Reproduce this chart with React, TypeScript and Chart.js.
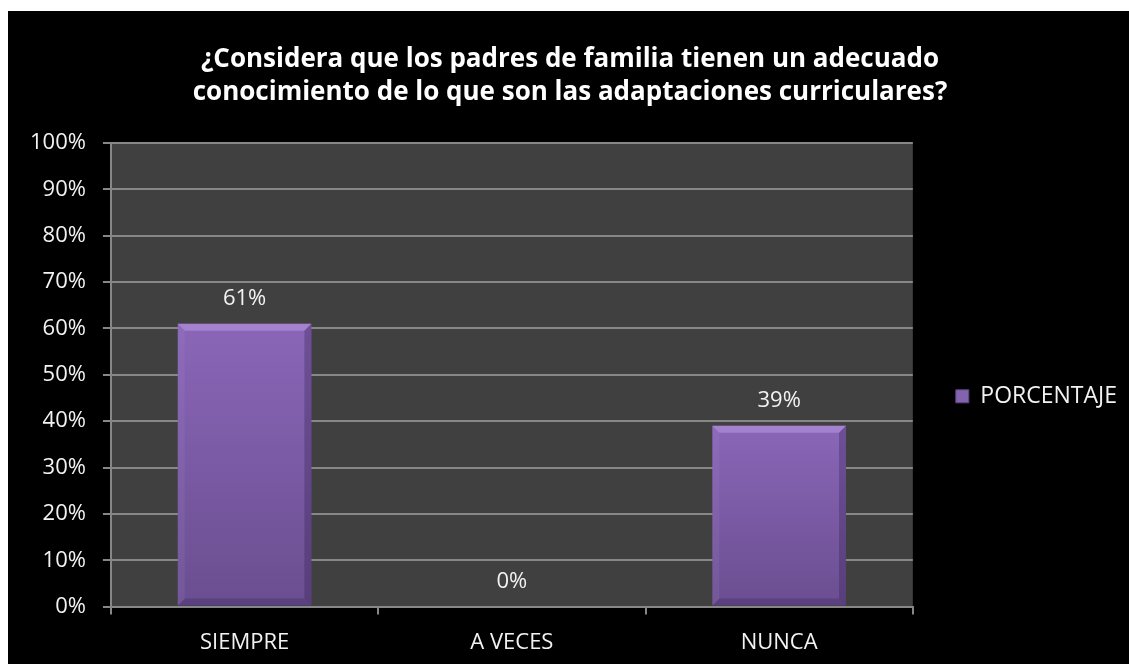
import React, { useEffect, useRef } from 'react';
import { Chart, registerables } from 'chart.js';

Chart.register(...registerables);

const categories: string[] = ['SIEMPRE', 'A VECES', 'NUNCA'];
const porcentaje: number[] = [61, 0, 39];
const seriesName = 'PORCENTAJE';
const titleLines: string[] = [
  '¿Considera que los padres de familia tienen un adecuado',
  'conocimiento de lo que son las adaptaciones curriculares?',
];
const yTickValues: number[] = [0, 10, 20, 30, 40, 50, 60, 70, 80, 90, 100];

const FONT = "'Open Sans', 'Liberation Sans', sans-serif";
const TEXT = '#f2f2f2';
const GRID = '#878787';

const plotBg = {
  id: 'plotBg',
  beforeDraw(chart: any) {
    const { ctx, chartArea } = chart;
    if (!chartArea) return;
    ctx.save();
    ctx.fillStyle = '#404040';
    ctx.fillRect(chartArea.left, chartArea.top, chartArea.right - chartArea.left, chartArea.bottom - chartArea.top);
    ctx.restore();
  },
};

const bevel = {
  id: 'bevel',
  afterDatasetsDraw(chart: any) {
    const { ctx } = chart;
    const meta = chart.getDatasetMeta(0);
    meta.data.forEach((el: any) => {
      const { x, y, base, width } = el.getProps(['x', 'y', 'base', 'width'], true);
      const h = base - y;
      if (h < 2) return;
      const l = x - width / 2;
      const r = x + width / 2;
      const b = Math.min(7, h / 2);
      ctx.save();
      ctx.fillStyle = 'rgba(195,165,235,0.45)';
      ctx.beginPath();
      ctx.moveTo(l, y);
      ctx.lineTo(r, y);
      ctx.lineTo(r - b, y + b);
      ctx.lineTo(l + b, y + b);
      ctx.closePath();
      ctx.fill();
      ctx.fillStyle = 'rgba(170,140,210,0.15)';
      ctx.beginPath();
      ctx.moveTo(l, y);
      ctx.lineTo(l + b, y + b);
      ctx.lineTo(l + b, base - b);
      ctx.lineTo(l, base);
      ctx.closePath();
      ctx.fill();
      ctx.fillStyle = 'rgba(40,20,70,0.28)';
      ctx.beginPath();
      ctx.moveTo(r, y);
      ctx.lineTo(r - b, y + b);
      ctx.lineTo(r - b, base - b);
      ctx.lineTo(r, base);
      ctx.closePath();
      ctx.fill();
      ctx.fillStyle = 'rgba(40,20,70,0.22)';
      ctx.beginPath();
      ctx.moveTo(l, base);
      ctx.lineTo(l + b, base - b);
      ctx.lineTo(r - b, base - b);
      ctx.lineTo(r, base);
      ctx.closePath();
      ctx.fill();
      ctx.restore();
    });
  },
};

const dataLabels = {
  id: 'dataLabels',
  afterDatasetsDraw(chart: any) {
    const { ctx } = chart;
    const meta = chart.getDatasetMeta(0);
    const data = chart.data.datasets[0].data as number[];
    ctx.save();
    ctx.fillStyle = TEXT;
    ctx.font = `22px ${FONT}`;
    ctx.textAlign = 'center';
    ctx.textBaseline = 'alphabetic';
    meta.data.forEach((el: any, i: number) => {
      const { x, y } = el.getProps(['x', 'y'], true);
      ctx.fillText(`${data[i]}%`, x, y - 19);
    });
    ctx.restore();
  },
};

function barFill(c: any) {
  const chart = c.chart;
  const ys = chart.scales && chart.scales.y;
  if (!ys || c.raw === undefined) return '#7d5fa8';
  const top = ys.getPixelForValue(c.raw);
  const bottom = ys.getPixelForValue(0);
  if (!isFinite(top) || !isFinite(bottom) || bottom - top < 1) return '#7d5fa8';
  const g = chart.ctx.createLinearGradient(0, top, 0, bottom);
  g.addColorStop(0, '#8a66b8');
  g.addColorStop(1, '#6a4e90');
  return g;
}

export default function App() {
  const ref = useRef<HTMLCanvasElement | null>(null);

  useEffect(() => {
    if (!ref.current) return;
    const chart = new Chart(ref.current, {
      type: 'bar',
      data: {
        labels: categories,
        datasets: [
          {
            label: seriesName,
            data: porcentaje,
            backgroundColor: barFill as any,
            borderWidth: 0,
            barPercentage: 0.5,
            categoryPercentage: 1,
          },
        ],
      },
      options: {
        responsive: true,
        maintainAspectRatio: false,
        animation: false,
        layout: { padding: { left: 5, right: 2, top: 0, bottom: -7 } },
        plugins: {
          tooltip: { enabled: false },
          title: {
            display: true,
            text: titleLines,
            color: '#ffffff',
            font: { family: FONT, size: 26, weight: 'bold', lineHeight: 1.27 },
            padding: { top: 32, bottom: 34 },
          },
          legend: {
            display: true,
            position: 'right',
            fullSize: false,
            title: { display: true, text: ' ', font: { size: 12, lineHeight: 1 }, padding: { top: 31, bottom: 0 } },
            labels: {
              color: TEXT,
              font: { family: FONT, size: 23 },
              boxWidth: 13,
              boxHeight: 13,
              padding: 43,
              generateLabels: () => [
                {
                  text: seriesName,
                  fillStyle: '#8264ae',
                  strokeStyle: '#5c4580',
                  lineWidth: 1,
                  hidden: false,
                  datasetIndex: 0,
                  fontColor: TEXT,
                } as any,
              ],
            },
          },
        },
        scales: {
          x: {
            offset: true,
            grid: { display: true, drawOnChartArea: false, drawTicks: true, tickLength: 8, color: GRID, lineWidth: 2 },
            border: { display: true, color: GRID, width: 2 },
            ticks: { color: TEXT, font: { family: FONT, size: 22 }, padding: 15 },
          },
          y: {
            min: 0,
            max: 100,
            afterBuildTicks: (axis: any) => {
              axis.ticks = yTickValues.map((v) => ({ value: v }));
            },
            grid: { color: GRID, lineWidth: 2, tickLength: 8, drawTicks: true },
            border: { display: true, color: GRID, width: 2 },
            ticks: {
              color: TEXT,
              font: { family: FONT, size: 22 },
              padding: 17,
              callback: (v: any) => `${v}%`,
            },
          },
        },
      },
      plugins: [plotBg, bevel, dataLabels],
    });
    return () => chart.destroy();
  }, []);

  return (
    <div
      style={{
        position: 'fixed',
        left: 8,
        top: 11,
        width: 1121,
        height: 653,
        background: '#000000',
      }}
    >
      <canvas ref={ref} />
    </div>
  );
}
